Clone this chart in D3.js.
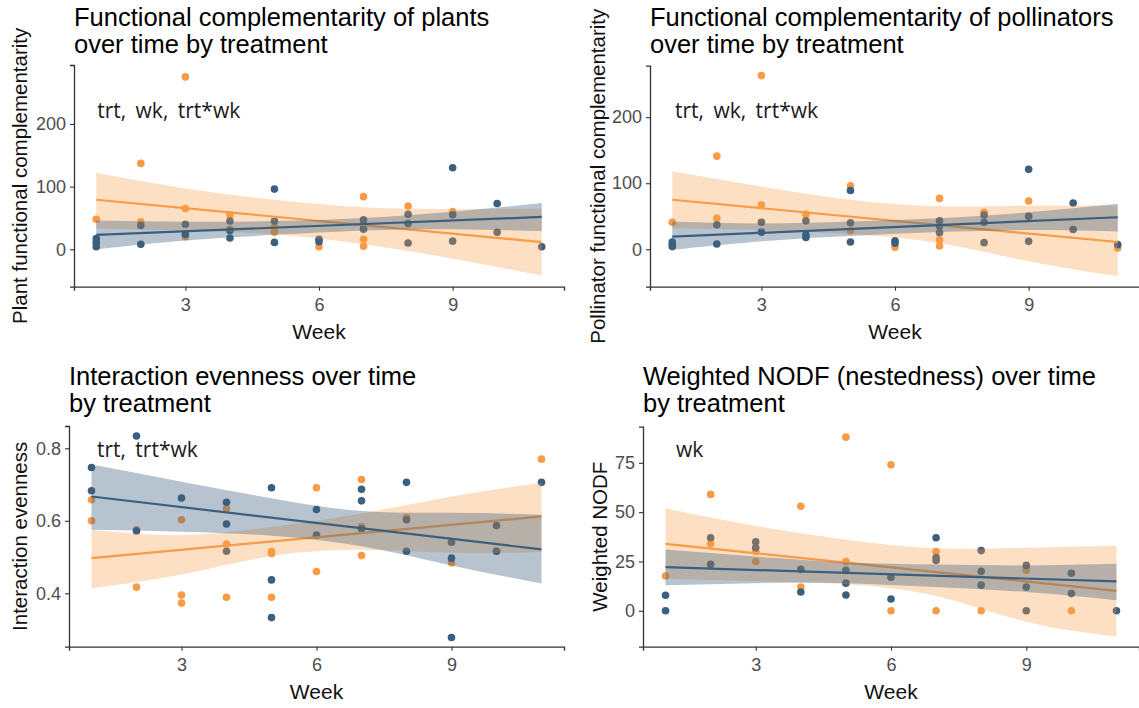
<!DOCTYPE html>
<html>
<head>
<meta charset="utf-8">
<script src="https://cdn.jsdelivr.net/npm/d3@7"></script>
<style>
  body { margin: 0; background: #fff; }
  svg { display: block; }
</style>
</head>
<body>
<div id="root"></div>
<script>
// weeks used for the fitted lines and the confidence bands
const fitWeeks = [1, 11];
const bandWeeks = [1, 3, 5, 7, 9, 11];
const xTicks = [3, 6, 9];

// panel 1: plant functional complementarity
const plantOrange = [[1,48],[1,9],[2,137],[2,44],[3,275],[3,65],[3,20],[4,55],[4,32],[5,35],[5,27],[6,4],[7,84],[7,16],[7,5],[8,69],[9,60]];
const plantBlue = [[1,17],[1,11],[1,4],[2,38],[2,8],[3,40],[3,24],[4,45],[4,30],[4,18],[5,96],[5,45],[5,11],[6,16],[6,12],[7,47],[7,40],[7,32],[8,56],[8,41],[8,10],[9,130],[9,55],[9,13],[10,73],[10,27],[11,4]];
const plantOrangeFit = [79, 11.5];
const plantBlueFit = [23, 51.6];
const plantOrangeLo = [33, 30, 24, 8, -15, -42];
const plantOrangeHi = [122, 97, 79, 67, 64, 65];
const plantBlueLo = [0, 14, 23, 30, 32, 29];
const plantBlueHi = [46, 44, 45, 50, 60, 74];

// panel 2: pollinator functional complementarity
const pollOrange = [[1,41],[2,141],[2,47],[3,263],[3,67],[4,53],[5,96],[5,28],[6,3],[7,77],[7,14],[7,5],[8,56],[9,73],[11,2]];
const pollBlue = [[1,11],[1,7],[1,4],[2,37],[2,8],[3,41],[3,26],[4,43],[4,22],[4,18],[5,89],[5,40],[5,11],[6,13],[6,9],[7,43],[7,35],[7,25],[8,52],[8,41],[8,10],[9,121],[9,50],[9,12],[10,70],[10,30],[11,7]];
const pollOrangeFit = [75, 11];
const pollBlueFit = [19, 48.5];
const pollOrangeLo = [32, 29, 23, 9, -18, -41];
const pollOrangeHi = [118, 95, 75, 65, 66, 66];
const pollBlueLo = [-1, 12, 20, 26, 29, 27];
const pollBlueHi = [42, 39, 42, 47, 56, 69];

// panel 3: interaction evenness
const evenOrange = [[1,0.658],[1,0.600],[2,0.575],[2,0.417],[3,0.603],[3,0.395],[3,0.373],[4,0.634],[4,0.536],[4,0.389],[5,0.515],[5,0.510],[5,0.389],[6,0.691],[6,0.460],[7,0.714],[7,0.584],[7,0.504],[8,0.609],[9,0.484],[10,0.516],[11,0.770]];
const evenBlue = [[1,0.747],[1,0.683],[2,0.834],[2,0.572],[3,0.663],[4,0.651],[4,0.591],[4,0.516],[5,0.691],[5,0.437],[5,0.333],[6,0.631],[6,0.561],[7,0.687],[7,0.655],[7,0.578],[8,0.706],[8,0.603],[8,0.516],[9,0.541],[9,0.497],[9,0.278],[10,0.587],[10,0.516],[11,0.706]];
const evenOrangeFit = [0.497, 0.612];
const evenBlueFit = [0.667, 0.521];
const evenOrangeLo = [0.414, 0.452, 0.503, 0.520, 0.512, 0.513];
const evenOrangeHi = [0.575, 0.560, 0.583, 0.620, 0.667, 0.705];
const evenBlueLo = [0.575, 0.570, 0.559, 0.530, 0.477, 0.427];
const evenBlueHi = [0.755, 0.708, 0.662, 0.627, 0.622, 0.617];

// panel 4: weighted NODF
const nodfOrange = [[1,17.6],[2,59],[2,34],[3,30],[3,25],[4,53],[4,12],[5,88],[5,25],[6,74],[6,0],[7,30],[7,0],[8,0],[9,20.5],[10,0]];
const nodfBlue = [[1,7.9],[1,0],[2,37],[2,23.5],[3,35],[3,32],[4,21],[4,9.5],[5,20.5],[5,14],[5,8],[6,17],[6,6],[7,37],[7,27],[7,25.5],[8,30.5],[8,20],[8,13],[9,23],[9,12],[9,0],[10,19],[10,8.7],[11,0]];
const nodfOrangeFit = [33.9, 10.1];
const nodfBlueFit = [22.1, 14.9];
const nodfOrangeLo = [16.3, 15, 13.5, 7.5, -5.5, -13];
const nodfOrangeHi = [52, 43, 36, 31.7, 32, 33];
const nodfBlueLo = [13, 14, 14, 12, 9.5, 5.4];
const nodfBlueHi = [31, 27.5, 24.5, 23.5, 23, 23.8];

const orange = "#F99B45";
const blue = "#3B5F7E";

const panels = [
  { title: ["Functional complementarity of plants", "over time by treatment"],
    yLabel: "Plant functional complementarity", note: "trt, wk, trt*wk", noteAt: [1.02, 209],
    box: { x0: 74, x1: 564, y0: 65, y1: 286.7 }, titleY: 26, yLabelX: 27,
    yDomain: [-59.7, 294], yTicks: [0, 100, 200], fmt: d3.format("d"),
    orange: plantOrange, blue: plantBlue, oFit: plantOrangeFit, bFit: plantBlueFit,
    oLo: plantOrangeLo, oHi: plantOrangeHi, bLo: plantBlueLo, bHi: plantBlueHi },
  { title: ["Functional complementarity of pollinators", "over time by treatment"],
    yLabel: "Pollinator functional complementarity", note: "trt, wk, trt*wk", noteAt: [1.06, 199],
    box: { x0: 650, x1: 1140, y0: 65.7, y1: 286.7 }, titleY: 26, yLabelX: 605,
    yDomain: [-56.7, 278], yTicks: [0, 100, 200], fmt: d3.format("d"),
    orange: pollOrange, blue: pollBlue, oFit: pollOrangeFit, bFit: pollBlueFit,
    oLo: pollOrangeLo, oHi: pollOrangeHi, bLo: pollBlueLo, bHi: pollBlueHi },
  { title: ["Interaction evenness over time", "by treatment"],
    yLabel: "Interaction evenness", note: "trt, trt*wk", noteAt: [1.12, 0.776],
    box: { x0: 69, x1: 564, y0: 426, y1: 646.7 }, titleY: 385, yLabelX: 27,
    yDomain: [0.2527, 0.8615], yTicks: [0.4, 0.6, 0.8], fmt: d3.format(".1f"),
    orange: evenOrange, blue: evenBlue, oFit: evenOrangeFit, bFit: evenBlueFit,
    oLo: evenOrangeLo, oHi: evenOrangeHi, bLo: evenBlueLo, bHi: evenBlueHi },
  { title: ["Weighted NODF (nestedness) over time", "by treatment"],
    yLabel: "Weighted NODF", note: "wk", noteAt: [1.23, 77.7],
    box: { x0: 643, x1: 1139, y0: 426.7, y1: 646.7 }, titleY: 385, yLabelX: 607,
    yDomain: [-18.2, 93.3], yTicks: [0, 25, 50, 75], fmt: d3.format("d"),
    orange: nodfOrange, blue: nodfBlue, oFit: nodfOrangeFit, bFit: nodfBlueFit,
    oLo: nodfOrangeLo, oHi: nodfOrangeHi, bLo: nodfBlueLo, bHi: nodfBlueHi }
];

const svg = d3.select("#root").append("svg")
  .attr("width", 1139)
  .attr("height", 708)
  .style("font-family", "'Liberation Sans', Arial, sans-serif");

panels.forEach((p) => {
  const x = d3.scaleLinear().domain([0.5, 11.5]).range([p.box.x0, p.box.x1]);
  const y = d3.scaleLinear().domain(p.yDomain).range([p.box.y1, p.box.y0]);
  const g = svg.append("g");

  // points first, the bands are drawn over them
  g.append("g").selectAll("circle")
    .data(p.orange.map((d) => ({ d, c: orange })).concat(p.blue.map((d) => ({ d, c: blue }))))
    .join("circle")
    .attr("cx", (e) => x(e.d[0]))
    .attr("cy", (e) => y(e.d[1]))
    .attr("r", 3.8)
    .attr("fill", (e) => e.c);

  const area = d3.area()
    .x((d) => x(d[0]))
    .y0((d) => y(d[1]))
    .y1((d) => y(d[2]))
    .curve(d3.curveNatural);
  const line = d3.line().x((d) => x(d[0])).y((d) => y(d[1]));

  [[orange, p.oLo, p.oHi, p.oFit, 0.32], [blue, p.bLo, p.bHi, p.bFit, 0.37]].forEach(([col, lo, hi, fit, op]) => {
    g.append("path")
      .attr("d", area(bandWeeks.map((w, i) => [w, lo[i], hi[i]])))
      .attr("fill", col)
      .attr("fill-opacity", op);
    g.append("path")
      .attr("d", line(fitWeeks.map((w, i) => [w, fit[i]])))
      .attr("fill", "none")
      .attr("stroke", col)
      .attr("stroke-width", 2.2);
  });

  // axes
  const xAxis = g.append("g")
    .attr("transform", "translate(0," + p.box.y1 + ")")
    .call(d3.axisBottom(x).tickValues(xTicks).tickSize(4).tickPadding(8));
  const yAxis = g.append("g")
    .attr("transform", "translate(" + p.box.x0 + ",0)")
    .call(d3.axisLeft(y).tickValues(p.yTicks).tickFormat(p.fmt).tickSize(4).tickPadding(4));
  [xAxis, yAxis].forEach((a) => {
    a.select(".domain").attr("stroke", "#333").attr("stroke-width", 1.3);
    a.selectAll(".tick line").attr("stroke", "#333").attr("stroke-width", 1.1);
    a.selectAll(".tick text")
      .attr("fill", "#4D4D4D")
      .style("font-size", "18px")
      .style("font-family", "'Liberation Sans', Arial, sans-serif");
  });

  // titles
  g.append("text")
    .attr("x", p.box.x0)
    .attr("y", p.titleY)
    .style("font-size", "25.5px")
    .attr("fill", "#000")
    .selectAll("tspan")
    .data(p.title)
    .join("tspan")
    .attr("x", p.box.x0)
    .attr("dy", (d, i) => (i === 0 ? 0 : 26.5))
    .text((d) => d);

  g.append("text")
    .attr("x", (p.box.x0 + p.box.x1) / 2)
    .attr("y", p.box.y1 + 52)
    .attr("text-anchor", "middle")
    .style("font-size", "21px")
    .attr("fill", "#111")
    .text("Week");

  g.append("text")
    .attr("transform", "translate(" + p.yLabelX + "," + (p.box.y0 + p.box.y1) / 2 + ") rotate(-90)")
    .attr("text-anchor", "middle")
    .style("font-size", "20.5px")
    .attr("fill", "#111")
    .text(p.yLabel);

  g.append("text")
    .attr("x", x(p.noteAt[0]))
    .attr("y", y(p.noteAt[1]))
    .style("font-family", "'Open Sans', 'Noto Sans', sans-serif")
    .style("font-size", "21px")
    .style("word-spacing", "4px")
    .attr("fill", "#1a1a1a")
    .text(p.note);
});
</script>
</body>
</html>
